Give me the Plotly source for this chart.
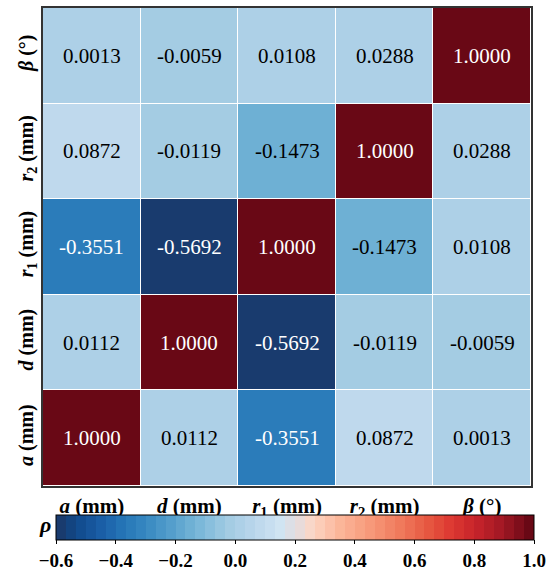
import plotly.graph_objects as go

# Variables (bottom-to-top on the y axis, left-to-right on the x axis)
labels = [
    "<i>a</i> (mm)",
    "<i>d</i> (mm)",
    "<i>r</i><sub>1</sub> (mm)",
    "<i>r</i><sub>2</sub> (mm)",
    "<i>β</i> (°)",
]

# Pearson correlation matrix, rows follow the y order above
rho = [
    [1.0000, 0.0112, -0.3551, 0.0872, 0.0013],
    [0.0112, 1.0000, -0.5692, -0.0119, -0.0059],
    [-0.3551, -0.5692, 1.0000, -0.1473, 0.0108],
    [0.0872, -0.0119, -0.1473, 1.0000, 0.0288],
    [0.0013, -0.0059, 0.0108, 0.0288, 1.0000],
]

zmin, zmax = -0.6, 1.0
cbar_ticks = [-0.6, -0.4, -0.2, 0.0, 0.2, 0.4, 0.6, 0.8, 1.0]

# Colour anchors for the diverging map (value, hex)
anchors = [
    (-0.60, "#1c3765"), (-0.53, "#10498b"), (-0.45, "#1a5ea6"),
    (-0.38, "#2474b6"), (-0.30, "#3788c1"), (-0.20, "#5aa3ce"),
    (-0.10, "#82bcdb"), (-0.02, "#a3cce3"), (0.05, "#b6d4ea"),
    (0.12, "#c8dff0"), (0.16, "#d3e5f2"), (0.19, "#dfdde2"),
    (0.23, "#eddad6"), (0.26, "#fdd5c3"), (0.35, "#fbb699"),
    (0.45, "#f7997a"), (0.55, "#f07a5c"), (0.65, "#e65640"),
    (0.72, "#de3a32"), (0.80, "#c9242b"), (0.88, "#a81a25"),
    (0.94, "#86101d"), (1.00, "#5e0512"),
]
n_levels = 48


def hex_to_rgb(h):
    h = h.lstrip("#")
    return tuple(int(h[i:i + 2], 16) for i in (0, 2, 4))


def color_at(v):
    for (v0, c0), (v1, c1) in zip(anchors[:-1], anchors[1:]):
        if v0 <= v <= v1:
            t = (v - v0) / (v1 - v0)
            a, b = hex_to_rgb(c0), hex_to_rgb(c1)
            r, g, bb = (round(a[k] + (b[k] - a[k]) * t) for k in range(3))
            return f"rgb({r},{g},{bb})"
    return anchors[-1][1] if v > 0 else anchors[0][1]


# Stepped colour scale
colorscale = []
for i in range(n_levels):
    centre = zmin + (i + 0.5) * (zmax - zmin) / n_levels
    c = color_at(centre)
    colorscale.append([i / n_levels, c])
    colorscale.append([(i + 1) / n_levels, c])

serif = "Liberation Serif"

fig = go.Figure(
    go.Heatmap(
        z=rho,
        x=labels,
        y=labels,
        zmin=zmin,
        zmax=zmax,
        colorscale=colorscale,
        xgap=1,
        ygap=1,
        hoverongaps=False,
        colorbar=dict(
            orientation="h",
            x=0.5164,
            xanchor="center",
            y=-0.0607,
            yanchor="top",
            len=0.9795,
            lenmode="fraction",
            thickness=25,
            thicknessmode="pixels",
            xpad=0,
            ypad=0,
            outlinewidth=1,
            outlinecolor="black",
            tickvals=cbar_ticks,
            ticktext=[f"{t:.1f}".replace("-", "−") for t in cbar_ticks],
            ticks="outside",
            ticklen=4,
            tickwidth=1,
            tickcolor="black",
            tickfont=dict(family=serif, size=19, color="black", weight="bold"),
        ),
    )
)

# Value labels in each cell
annotations = []
for i, row_label in enumerate(labels):
    for j, col_label in enumerate(labels):
        v = rho[i][j]
        txt_color = "white" if (v > 0.7 or v < -0.3) else "black"
        annotations.append(
            dict(
                x=col_label,
                y=row_label,
                xref="x",
                yref="y",
                text=f"{v:.4f}",
                showarrow=False,
                font=dict(family=serif, size=21, color=txt_color),
            )
        )

annotations.append(
    dict(
        x=0.004,
        y=-0.08,
        xref="paper",
        yref="paper",
        text="<b><i>ρ</i></b>",
        showarrow=False,
        xanchor="center",
        yanchor="middle",
        font=dict(family=serif, size=22, color="black"),
    )
)

axis_common = dict(
    showgrid=False,
    zeroline=False,
    showline=True,
    mirror=True,
    linecolor="#333333",
    linewidth=1.5,
    ticks="",
)

fig.update_layout(
    width=554,
    height=571,
    margin=dict(l=43, r=23, t=8, b=85, autoexpand=False),
    paper_bgcolor="white",
    plot_bgcolor="white",
    annotations=annotations,
    xaxis=dict(
        **axis_common,
        tickangle=0,
        ticklabelstandoff=0,
        tickfont=dict(family=serif, size=21, color="black", weight="bold"),
    ),
    yaxis=dict(
        **axis_common,
        tickangle=-90,
        tickfont=dict(family=serif, size=20, color="black", weight="bold"),
    ),
)

fig.write_html("out.html")
